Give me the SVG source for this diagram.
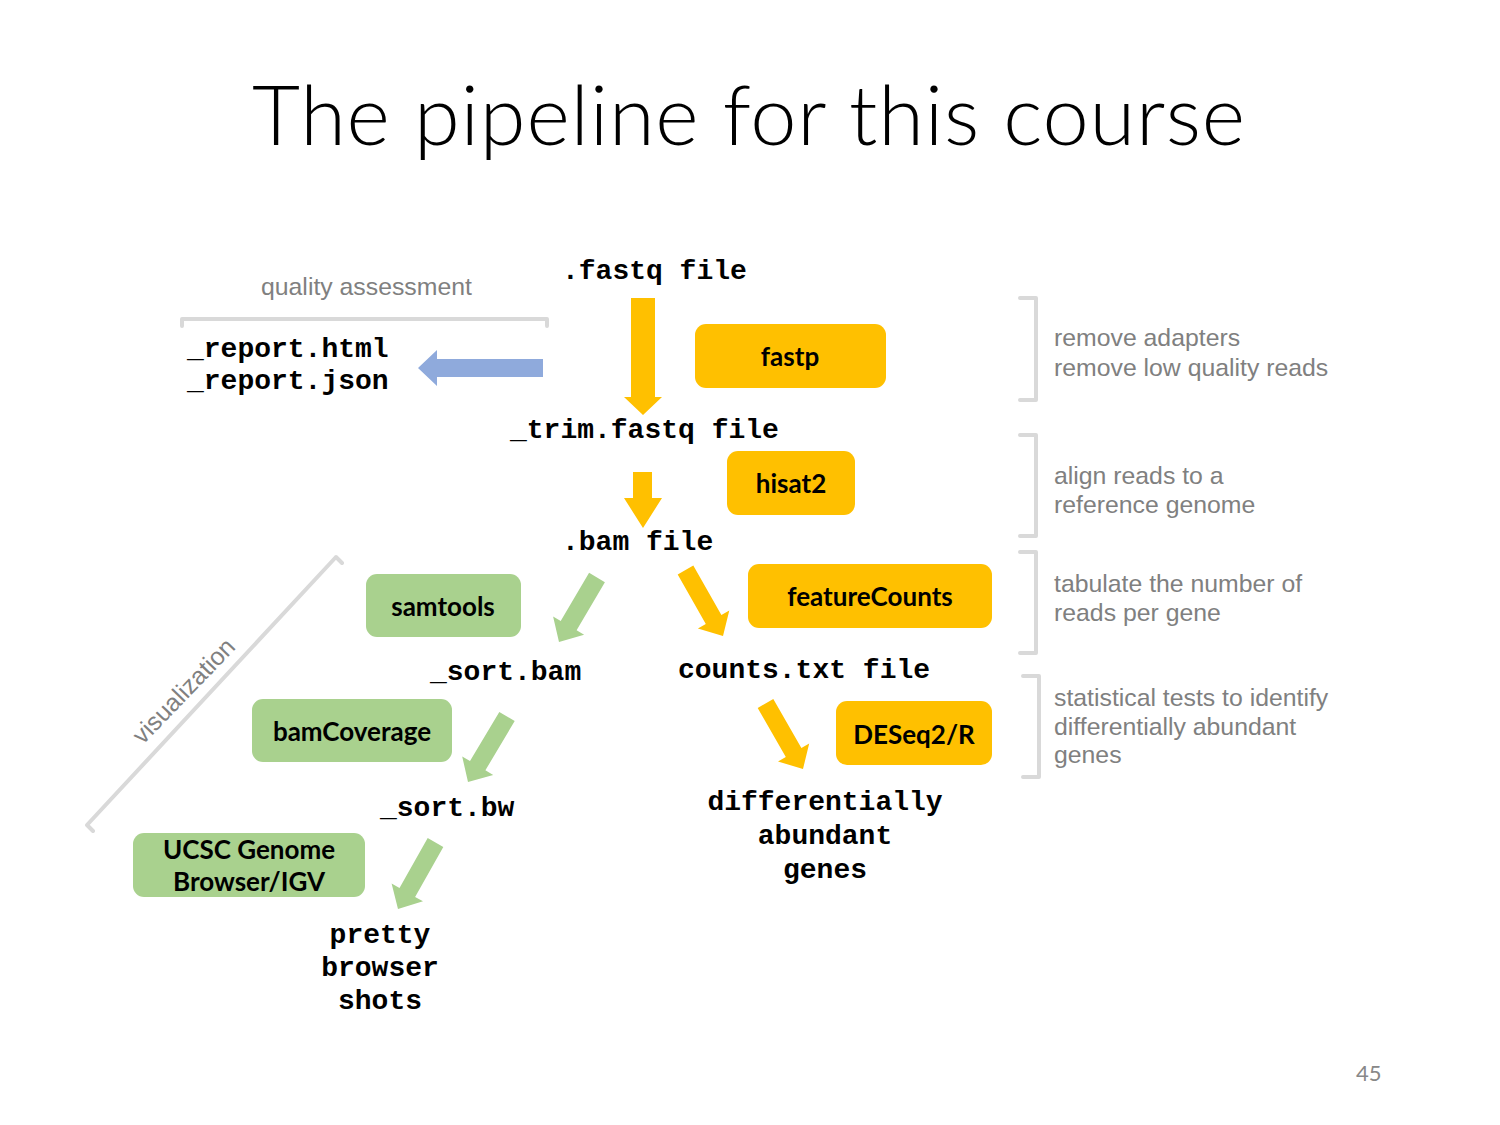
<svg xmlns="http://www.w3.org/2000/svg" width="1500" height="1125" viewBox="0 0 1500 1125">
  <style>
    .title { font-family: Lato, "Open Sans", "Liberation Sans", sans-serif; font-weight: 300; font-size: 83px; fill: #000; }
    .file { font-family: "Liberation Mono", "DejaVu Sans Mono", monospace; font-weight: bold; font-size: 28px; fill: #000; }
    .tool { font-family: Lato, "Open Sans", "Liberation Sans", sans-serif; font-weight: bold; font-size: 26px; fill: #000; text-anchor: middle; }
    .note { font-family: "Liberation Sans", Arial, sans-serif; font-size: 24.8px; fill: #808080; }
    .orange { fill: #ffc000; }
    .green { fill: #a9d18e; }
    .blue { fill: #8faadc; }
    .bracket { fill: none; stroke: #d9d9d9; stroke-width: 4; stroke-linejoin: round; stroke-linecap: round; }
  </style>

  <rect width="1500" height="1125" fill="#ffffff"/>

  <text class="title" x="252" y="145" textLength="993">The pipeline for this course</text>

  <!-- brackets and side notes -->
  <g id="quality-bracket">
    <path class="bracket" d="M182,326 L182,319 L547,319 L547,326"/>
    <text class="note" x="261" y="295">quality assessment</text>
  </g>
  <g id="visualization-bracket">
    <path class="bracket" d="M342,563 L336,557 L87,825 L93,831"/>
    <text class="note" transform="translate(184,691) rotate(-46)" x="0" y="8" text-anchor="middle">visualization</text>
  </g>
  <g id="note-fastp">
    <path class="bracket" d="M1020,298 L1036,298 L1036,400 L1020,400"/>
    <text class="note" x="1054" y="346">remove adapters</text>
    <text class="note" x="1054" y="376">remove low quality reads</text>
  </g>
  <g id="note-hisat2">
    <path class="bracket" d="M1020,435 L1036,435 L1036,536 L1020,536"/>
    <text class="note" x="1054" y="484">align reads to a</text>
    <text class="note" x="1054" y="513">reference genome</text>
  </g>
  <g id="note-featurecounts">
    <path class="bracket" d="M1020,552 L1036,552 L1036,653 L1020,653"/>
    <text class="note" x="1054" y="592">tabulate the number of</text>
    <text class="note" x="1054" y="621">reads per gene</text>
  </g>
  <g id="note-deseq2">
    <path class="bracket" d="M1023,676 L1039,676 L1039,777 L1023,777"/>
    <text class="note" x="1054" y="706">statistical tests to identify</text>
    <text class="note" x="1054" y="735">differentially abundant</text>
    <text class="note" x="1054" y="763">genes</text>
  </g>

  <!-- connectors -->
  <g id="connectors">
    <polygon class="orange" points="631,298 655,298 655,397 662,397 643,415 624,397 631,397"/>
    <polygon class="blue" points="543,359 437,359 437,350 418,368 437,386 437,377 543,377"/>
    <polygon class="orange" points="633,472 652,472 652,498 662,498 643,528 624,498 633,498"/>
    <polygon class="green" points="604.9,582.2 576.6,630.3 584.1,634.7 559,642 553.1,616.5 560.7,620.9 589.1,572.8"/>
    <polygon class="orange" points="693.3,565.6 721.4,615 729.3,610.6 723,636 697.9,628.4 705.8,623.9 677.7,574.5"/>
    <polygon class="orange" points="773.3,699 801.4,748 809.2,743.6 803,769 778,761.5 785.8,757 757.7,708"/>
    <polygon class="green" points="514.7,721.1 485.4,770.3 493.2,774.9 468,782 462.2,756.5 470,761.1 499.3,711.9"/>
    <polygon class="green" points="443.3,846.9 415.1,896.9 423,901.3 398,909 391.6,883.6 399.5,888 427.7,838.1"/>
  </g>

  <!-- file nodes -->
  <g id="fastq"><text class="file" x="562" y="279">.fastq file</text></g>
  <g id="report">
    <text class="file" x="187" y="357">_report.html</text>
    <text class="file" x="187" y="389">_report.json</text>
  </g>
  <g id="trim-fastq"><text class="file" x="510" y="438">_trim.fastq file</text></g>
  <g id="bam"><text class="file" x="562" y="550">.bam file</text></g>
  <g id="sort-bam"><text class="file" x="430" y="680">_sort.bam</text></g>
  <g id="counts"><text class="file" x="678" y="678">counts.txt file</text></g>
  <g id="sort-bw"><text class="file" x="380" y="816">_sort.bw</text></g>
  <g id="de-genes">
    <text class="file" x="825" y="810" text-anchor="middle">differentially</text>
    <text class="file" x="825" y="844" text-anchor="middle">abundant</text>
    <text class="file" x="825" y="878" text-anchor="middle">genes</text>
  </g>
  <g id="browser-shots">
    <text class="file" x="380" y="943" text-anchor="middle">pretty</text>
    <text class="file" x="380" y="976" text-anchor="middle">browser</text>
    <text class="file" x="380" y="1009" text-anchor="middle">shots</text>
  </g>

  <!-- tool nodes -->
  <g id="fastp">
    <rect class="orange" x="695" y="324" width="191" height="64" rx="11"/>
    <text class="tool" x="790" y="366">fastp</text>
  </g>
  <g id="hisat2">
    <rect class="orange" x="727" y="451" width="128" height="64" rx="11"/>
    <text class="tool" x="791" y="493">hisat2</text>
  </g>
  <g id="featurecounts">
    <rect class="orange" x="748" y="564" width="244" height="64" rx="11"/>
    <text class="tool" x="870" y="606">featureCounts</text>
  </g>
  <g id="deseq2">
    <rect class="orange" x="836" y="701" width="156" height="64" rx="11"/>
    <text class="tool" x="914" y="744">DESeq2/R</text>
  </g>
  <g id="samtools">
    <rect class="green" x="366" y="574" width="155" height="63" rx="11"/>
    <text class="tool" x="443" y="616">samtools</text>
  </g>
  <g id="bamcoverage">
    <rect class="green" x="252" y="699" width="200" height="63" rx="11"/>
    <text class="tool" x="352" y="741">bamCoverage</text>
  </g>
  <g id="ucsc">
    <rect class="green" x="133" y="833" width="232" height="64" rx="11"/>
    <text class="tool" x="249" y="859">UCSC Genome</text>
    <text class="tool" x="249" y="891">Browser/IGV</text>
  </g>

  <text x="1356" y="1081" font-family="Lato, 'Liberation Sans', sans-serif" font-size="22" fill="#888888">45</text>
</svg>
